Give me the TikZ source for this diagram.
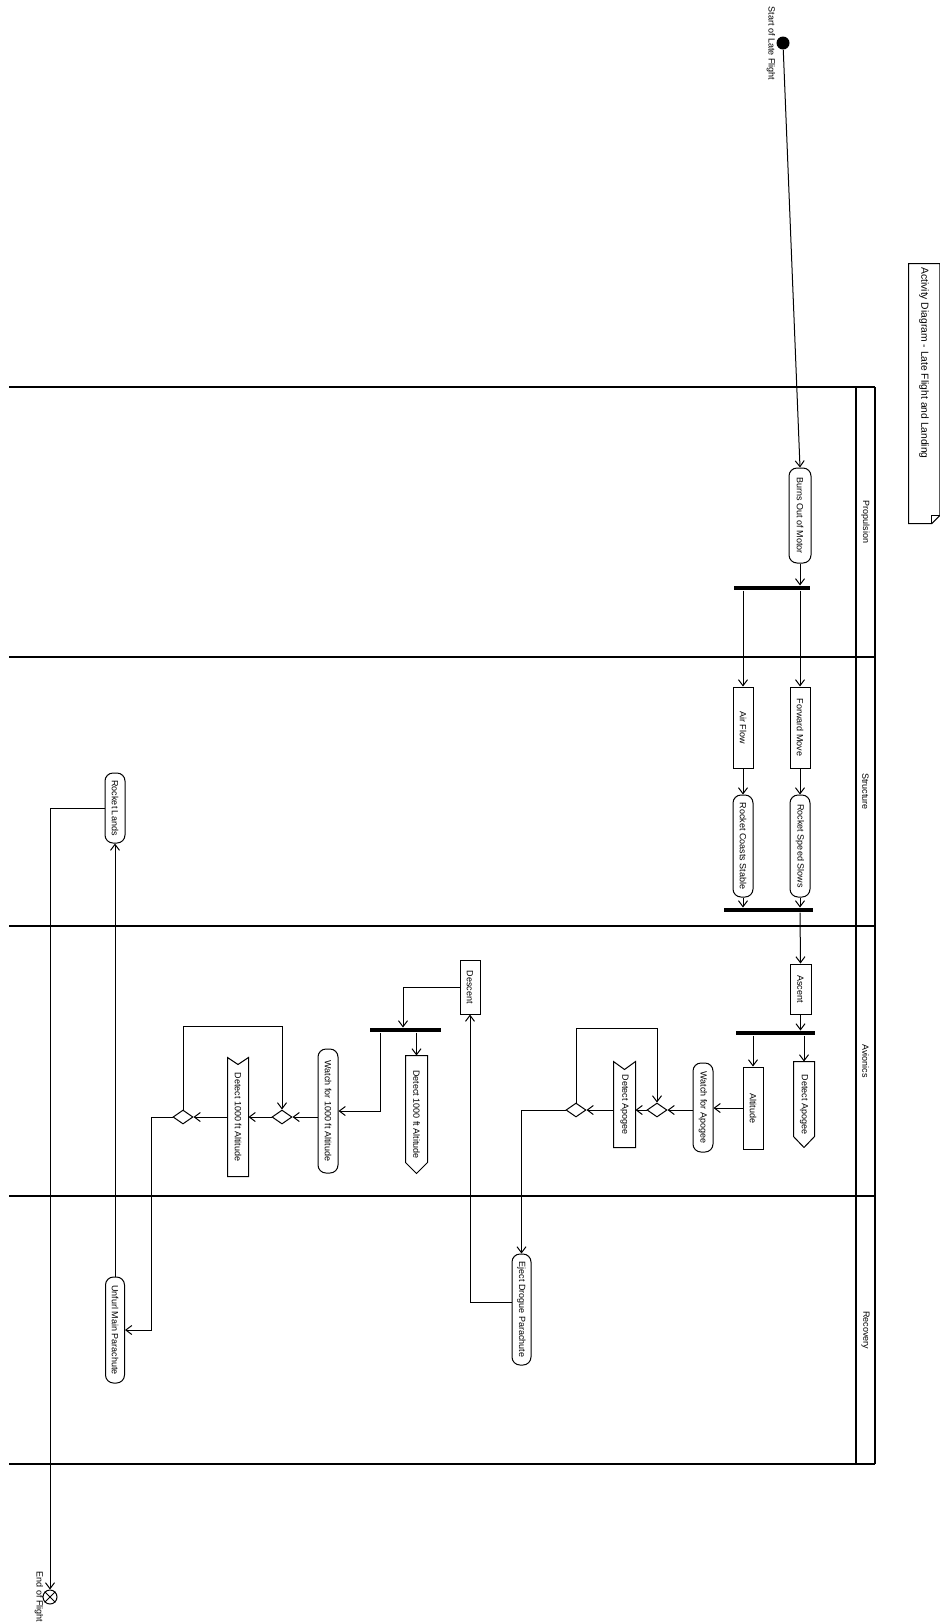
\documentclass[tikz,border=0pt]{standalone}
\usepackage{fontspec}
\setmainfont{Liberation Sans}
\usetikzlibrary{arrows.meta,shapes.geometric,calc}
\newcommand{\vtext}[1]{\rotatebox{-90}{#1}}
\begin{document}
\begin{tikzpicture}[x=1pt,y=-1pt, line width=1pt,
  font=\fontsize{9}{10}\selectfont,
  arr/.style={-{Straight Barb[length=6pt,width=9pt]}},
  roundact/.style={draw, rounded corners=8pt, minimum width=20pt, inner sep=0pt},
  rectact/.style={draw, minimum width=20pt, inner sep=0pt},
  sigshape/.style={minimum width=20pt, inner sep=0pt},
  bar/.style={fill=black, draw=none, minimum height=4pt, inner sep=0pt},
  dec/.style={draw, diamond, aspect=1.4, minimum width=20pt, minimum height=14pt, inner sep=0pt},
  plain/.style={inner sep=0pt},
  lane/.style={line width=1.2pt}
]
\useasboundingbox (0,0) rectangle (940,1623);

% swimlanes
\draw[lane] (9,387) -- (875,387);
\draw[lane] (9,657) -- (875,657);
\draw[lane] (9,926) -- (875,926);
\draw[lane] (9,1196) -- (875,1196);
\draw[lane] (9,1464) -- (875,1464);
\draw[lane] (856,387) -- (856,1464);
\draw[lane] (875,387) -- (875,1464);
\node[plain] (lprop) at (865.5,522) {\vtext{Propulsion}};
\node[plain] (lstruct) at (865.5,791.5) {\vtext{Structure}};
\node[plain] (lavio) at (865.5,1061) {\vtext{Avionics}};
\node[plain] (lrec) at (865.5,1330) {\vtext{Recovery}};

% note
\node[plain, minimum width=30.4pt, minimum height=259pt] (note) at (924.2,393.5) {};
\draw (note.north east) -- (note.north west) -- (note.south west) -- ([xshift=-8pt]note.south east) -- ([yshift=8pt]note.south east) -- cycle;
\draw ([xshift=-8pt]note.south east) -- ([xshift=-8pt,yshift=8pt]note.south east) -- ([yshift=8pt]note.south east);
\node[plain, anchor=north, font=\fontsize{10.3}{12}\selectfont] (notetxt) at (924,267) {\vtext{Activity Diagram - Late Flight and Landing}};

% start / end
\node[circle, fill=black, minimum size=13pt, inner sep=0pt] (start) at (783,43) {};
\node[plain] (startlbl) at (771,43.5) {\vtext{Start of Late Flight}};
\node[circle, draw, fill=white, minimum size=14pt, inner sep=0pt] (end) at (50,1597) {};
\draw (end.north east) -- (end.south west) (end.north west) -- (end.south east);
\node[plain, anchor=north] (endlbl) at (39,1571) {\vtext{End of Flight}};

% propulsion / structure
\node[roundact, minimum width=22pt, minimum height=95pt] (burns) at (800,515.5) {\vtext{Burns Out of Motor}};
\node[bar, minimum width=76pt] (fork1) at (772,588) {};
\node[rectact, minimum height=81pt] (airflow) at (743,727.5) {\vtext{Air Flow}};
\node[rectact, minimum height=81pt] (fwd) at (800,727.5) {\vtext{Forward Move}};
\node[roundact, minimum height=102pt] (coasts) at (743,846) {\vtext{Rocket Coasts Stable}};
\node[roundact, minimum height=102pt] (slows) at (800,846) {\vtext{Rocket Speed Slows}};
\node[bar, minimum width=89pt] (join) at (768.5,910) {};

% avionics - apogee
\node[rectact, minimum width=21pt, minimum height=50pt] (ascent) at (800.5,989) {\vtext{Ascent}};
\node[bar, minimum width=79pt] (fork2) at (775.5,1033) {};
\node[sigshape, minimum height=85pt] (detapo1) at (804,1104.5) {\vtext{Detect Apogee}};
\draw (detapo1.north west) -- (detapo1.north east) -- ([yshift=11pt]detapo1.south east) -- (detapo1.south) -- ([yshift=11pt]detapo1.south west) -- cycle;
\node[rectact, minimum height=82pt] (altitude) at (753,1108) {\vtext{Altitude}};
\node[roundact, minimum height=89pt] (watchapo) at (703,1107.5) {\vtext{Watch for Apogee}};
\node[dec] (dia1) at (657,1110) {};
\node[sigshape, minimum width=21pt, minimum height=85pt] (detapo2) at (624.5,1104.5) {\vtext{Detect Apogee}};
\draw (detapo2.north west) -- ([yshift=-8pt]detapo2.north) -- (detapo2.north east) -- (detapo2.south east) -- (detapo2.south west) -- cycle;
\node[dec] (dia2) at (576,1110) {};

% recovery / avionics - descent
\node[roundact, minimum width=19pt, minimum height=111pt] (eject) at (521.5,1309.5) {\vtext{Eject Drogue Parachute}};
\node[rectact, minimum height=54pt] (descent) at (470,987) {\vtext{Descent}};
\node[bar, minimum width=71pt] (fork3) at (405.5,1030) {};
\node[sigshape, minimum width=21pt, minimum height=117pt] (detsend) at (416.5,1114.5) {\vtext{Detect 1000 ft Altitude}};
\draw (detsend.north west) -- (detsend.north east) -- ([yshift=11pt]detsend.south east) -- (detsend.south) -- ([yshift=11pt]detsend.south west) -- cycle;
\node[roundact, minimum height=124pt] (watchalt) at (328,1111) {\vtext{Watch for 1000 ft Altitude}};
\node[dec] (dia3) at (282,1117) {};
\node[sigshape, minimum height=118pt] (detacc) at (238,1117) {\vtext{Detect 1000 ft Altitude}};
\draw (detacc.north west) -- ([yshift=-7pt]detacc.north) -- (detacc.north east) -- (detacc.south east) -- (detacc.south west) -- cycle;
\node[dec] (dia4) at (183,1117) {};
\node[roundact, minimum width=19pt, minimum height=106pt] (unfurl) at (115,1330) {\vtext{Unfurl Main Parachute}};
\node[roundact, minimum height=70pt] (lands) at (115,808) {\vtext{Rocket Lands}};

% helper coordinates
\coordinate (loopA) at (0,1028);
\coordinate (loopB) at (0,1026);
\coordinate (colU) at (151,0);

% connectors
\draw[arr] (start) -- (burns.north);
\draw[arr] (burns.south) -- (burns.south |- fork1.north);
\draw[arr] (fork1.south -| airflow.north) -- (airflow.north);
\draw[arr] (fork1.south -| fwd.north) -- (fwd.north);
\draw[arr] (airflow.south) -- (coasts.north);
\draw[arr] (fwd.south) -- (slows.north);
\draw[arr] (coasts.south) -- (coasts.south |- join.north);
\draw[arr] (slows.south) -- (slows.south |- join.north);
\draw[arr] (join.south -| slows.south) -- (ascent.north);
\draw[arr] (ascent.south) -- (ascent.south |- fork2.north);
\draw[arr] (fork2.south -| detapo1.north) -- (detapo1.north);
\draw[arr] (fork2.south -| altitude.north) -- (altitude.north);
\draw[arr] (altitude.west) -- (altitude.west -| watchapo.east);
\draw[arr] (watchapo.west |- dia1.east) -- (dia1.east);
\draw[arr] (dia1.west) -- (dia1.west -| detapo2.east);
\draw[arr] (detapo2.west |- dia2.east) -- (dia2.east);
\draw[arr] (dia2.north) -- (dia2.north |- loopA) -| (dia1.north);
\draw[arr] (dia2.west) -| (eject.north);
\draw[arr] ([yshift=7.5pt]eject.west) -| (descent.south);
\draw[arr] (descent.west) -| ([xshift=-2.5pt]fork3.north);
\draw[arr] (fork3.south -| detsend.north) -- (detsend.north);
\draw[arr] ([xshift=-25.5pt]fork3.south) |- (watchalt.east);
\draw[arr] (watchalt.west |- dia3.east) -- (dia3.east);
\draw[arr] (dia3.west) -- (dia3.west -| detacc.east);
\draw[arr] (detacc.west |- dia4.east) -- (dia4.east);
\draw[arr] (dia4.north) -- (dia4.north |- loopB) -| (dia3.north);
\draw[arr] (dia4.west) -- (dia4.west -| colU) |- (unfurl.east);
\draw[arr] (unfurl.north) -- (lands.south);
\draw[arr] (lands.west) -| (end.north);
\end{tikzpicture}
\end{document}
